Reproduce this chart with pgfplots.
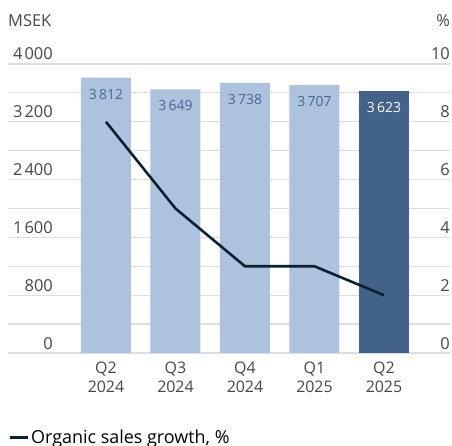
\documentclass[border=0pt]{standalone}
\usepackage{pgfplots}
\pgfplotsset{compat=1.18}
\usepackage{fontspec}
\setmainfont{Open Sans}
\definecolor{barlight}{HTML}{ADC2DD}
\definecolor{bardark}{HTML}{42628A}
\definecolor{linec}{HTML}{0B2133}
\definecolor{txt}{HTML}{474747}
\definecolor{lbl}{HTML}{4A6792}
\definecolor{gridc}{HTML}{DEDEDE}
\begin{document}
\begin{tikzpicture}
\useasboundingbox (0,0) rectangle (452bp,446bp);
\begin{axis}[
  at={(8bp,93bp)}, anchor=south west, scale only axis,
  width=442bp, height=289bp,
  xmin=-1.41, xmax=4.95, ymin=0, ymax=4000,
  ytick={0,800,...,4000}, minor ytick={400,1200,...,3600},
  ymajorgrids, yminorgrids,
  major grid style={gridc, line width=1.2bp},
  minor grid style={gridc, line width=1.2bp},
  axis line style={draw=none},
  major tick length=0pt, minor tick length=0pt,
  xtick={0,1,2,3,4},
  xticklabels={{Q2\\2024},{Q3\\2024},{Q4\\2024},{Q1\\2025},{Q2\\2025}},
  xticklabel style={align=center, font=\fontsize{16}{19.5}\selectfont, text=txt, anchor=north, yshift=-5bp},
  yticklabel style={anchor=base east, inner sep=0pt, xshift=45bp, yshift=4bp, font=\fontsize{16.5}{19}\selectfont, text=txt},
  /pgf/number format/1000 sep={\kern2.2bp},
  /pgf/number format/assume math mode=true,
  ylabel={MSEK},
  every axis y label/.style={at={(rel axis cs:0,1)}, anchor=base west, yshift=37bp, inner sep=0pt, font=\fontsize{16.5}{19}\selectfont, text=txt},
  ybar, bar width=50bp,
  nodes near coords,
  nodes near coords style={anchor=north, yshift=-8bp, font=\fontsize{14}{17}\selectfont},
]
\addplot[fill=barlight, draw=none, bar shift=0pt, nodes near coords style={text=lbl}]
  coordinates {(0,3812) (1,3649) (2,3738) (3,3707)};
\addplot[fill=bardark, draw=none, bar shift=0pt, nodes near coords style={text=white}]
  coordinates {(4,3623)};
\end{axis}
\begin{axis}[
  at={(8bp,93bp)}, anchor=south west, scale only axis,
  width=442bp, height=289bp,
  xmin=-1.41, xmax=4.95, ymin=0, ymax=10,
  axis y line*=right, axis x line=none,
  axis line style={draw=none},
  major tick length=0pt,
  ytick={0,2,...,10}, xtick=\empty,
  yticklabel style={anchor=base east, inner sep=0pt, xshift=0bp, yshift=4bp, font=\fontsize{16.5}{19}\selectfont, text=txt},
  /pgf/number format/assume math mode=true,
  ylabel={\%},
  every axis y label/.style={at={(rel axis cs:1,1)}, anchor=base east, yshift=37bp, inner sep=0pt, font=\fontsize{16.5}{19}\selectfont, text=txt},
  legend style={at={(rel axis cs:0,0)}, anchor=west, yshift=-84bp, draw=none, fill=none, inner sep=0pt,
    font=\fontsize{18}{20}\selectfont, text=black,
    /tikz/every even column/.append style={column sep=0pt}},
  legend image code/.code={\draw[linec, line width=3bp] (0bp,0bp) -- (18bp,0bp);},
  legend cell align=left,
]
\addplot[linec, line width=2.6bp, mark=none] coordinates {(0,8.0) (1,5.0) (2,3.0) (3,3.0) (4,2.0)};
\addlegendentry{Organic sales growth, \%}
\end{axis}
\end{tikzpicture}
\end{document}
